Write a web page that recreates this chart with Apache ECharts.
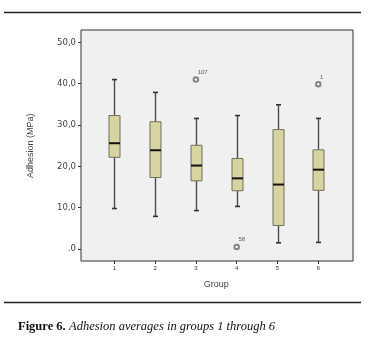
<!DOCTYPE html>
<html><head><meta charset="utf-8">
<script src="https://cdn.jsdelivr.net/npm/echarts@6/dist/echarts.min.js"></script>
<style>html,body{margin:0;padding:0;background:#fff}#c{width:376px;height:343px}</style>
</head><body><div id="c"></div>
<script>
var groups = ['1','2','3','4','5','6'];
var whiskerLow = [9.8, 7.9, 9.3, 10.3, 1.5, 1.6];
var q1 = [22.2, 17.3, 16.5, 14.1, 5.7, 14.2];
var median = [25.6, 23.9, 20.2, 17.1, 15.6, 19.2];
var q3 = [32.3, 30.8, 25.1, 21.9, 28.9, 24.0];
var whiskerHigh = [41.0, 37.9, 31.6, 32.3, 34.9, 31.6];
var outlierGroup = ['3', '4', '6'];
var outlierValue = [41.0, 0.5, 39.9];
var outlierLabel = ['107', '58', '1'];
var yTicks = ['.0', '10,0', '20,0', '30,0', '40,0', '50,0'];

var boxData = groups.map(function (g, i) {
  return [i, whiskerLow[i], q1[i], median[i], q3[i], whiskerHigh[i]];
});
var outData = outlierGroup.map(function (g, i) {
  return { value: [groups.indexOf(g), outlierValue[i]], name: outlierLabel[i] };
});

var chart = echarts.init(document.getElementById('c'), null, { renderer: 'canvas' });
var sans = 'Arial, "Liberation Sans", sans-serif';
chart.setOption({
  animation: false,
  backgroundColor: '#fff',
  grid: [
    { left: 81, right: 23, top: 30, bottom: 82, show: true, backgroundColor: '#f0f0f0', borderColor: '#333', borderWidth: 1 },
    { left: 93.9, right: 37.3, top: 30, bottom: 82, show: false },
    { left: 81, right: 23, top: 42.3, bottom: 94, show: false }
  ],
  xAxis: [
    { gridIndex: 0, type: 'value', show: false, min: 0, max: 1 },
    { gridIndex: 1, type: 'category', data: groups, position: 'bottom',
      axisLine: { show: false, onZero: false },
      axisTick: { show: true, alignWithLabel: true, length: 3, lineStyle: { color: '#333' } },
      axisLabel: { fontSize: 6, color: '#333', margin: 4, fontFamily: sans },
      name: 'Group', nameLocation: 'middle', nameGap: 19,
      nameTextStyle: { fontSize: 9, color: '#444', fontFamily: sans }
    },
    { gridIndex: 2, type: 'value', show: false, min: 0, max: 1 }
  ],
  yAxis: [
    { gridIndex: 0, type: 'value', show: false, min: 0, max: 1 },
    { gridIndex: 1, type: 'value', show: false, min: -2.9, max: 53 },
    { gridIndex: 2, type: 'value', min: 0, max: 50, interval: 10, position: 'left',
      axisLine: { show: false, onZero: false },
      axisTick: { show: true, length: 3, lineStyle: { color: '#333' } },
      splitLine: { show: false },
      axisLabel: { fontSize: 8.5, color: '#444', margin: 5, fontFamily: '"DejaVu Sans", sans-serif',
        formatter: function (v) { return yTicks[Math.round(v / 10)]; } },
      name: 'Adhesion (MPa)', nameLocation: 'middle', nameGap: 46,
      nameTextStyle: { fontSize: 9, color: '#444', fontFamily: sans }
    }
  ],
  graphic: [
    { type: 'line', shape: { x1: 4, y1: 12.5, x2: 361, y2: 12.5 }, style: { stroke: '#222', lineWidth: 1.3 } },
    { type: 'line', shape: { x1: 4, y1: 302.5, x2: 361, y2: 302.5 }, style: { stroke: '#222', lineWidth: 1.3 } },
    { type: 'text', left: 18, top: 320.5,
      style: { text: '{b|Figure 6.} {i|Adhesion averages in groups 1 through 6}',
        rich: {
          b: { fontFamily: '"Liberation Serif", serif', fontWeight: 'bold', fontSize: 12.5, fill: '#111' },
          i: { fontFamily: '"Liberation Serif", serif', fontStyle: 'italic', fontSize: 12.5, fill: '#111' }
        } } }
  ],
  series: [
    {
      type: 'custom', xAxisIndex: 1, yAxisIndex: 1, data: boxData,
      renderItem: function (params, api) {
        var x = api.value(0);
        var pLow = api.coord([x, api.value(1)]);
        var pQ1 = api.coord([x, api.value(2)]);
        var pMed = api.coord([x, api.value(3)]);
        var pQ3 = api.coord([x, api.value(4)]);
        var pHigh = api.coord([x, api.value(5)]);
        var cx = Math.round(pLow[0]) + 0.5;
        var hw = 5.5, cw = 2.5;
        var wStyle = { stroke: '#4a4a4a', lineWidth: 1.4 };
        return { type: 'group', children: [
          { type: 'line', shape: { x1: cx, y1: pHigh[1], x2: cx, y2: pQ3[1] }, style: wStyle },
          { type: 'line', shape: { x1: cx, y1: pQ1[1], x2: cx, y2: pLow[1] }, style: wStyle },
          { type: 'line', shape: { x1: cx - cw, y1: pHigh[1], x2: cx + cw, y2: pHigh[1] }, style: { stroke: '#333', lineWidth: 1.6 } },
          { type: 'line', shape: { x1: cx - cw, y1: pLow[1], x2: cx + cw, y2: pLow[1] }, style: { stroke: '#333', lineWidth: 1.6 } },
          { type: 'rect', shape: { x: cx - hw, y: pQ3[1], width: hw * 2, height: pQ1[1] - pQ3[1] },
            style: { fill: '#d8d4a2', stroke: '#707058', lineWidth: 1 } },
          { type: 'line', shape: { x1: cx - hw, y1: pMed[1], x2: cx + hw, y2: pMed[1] }, style: { stroke: '#111', lineWidth: 2 } }
        ] };
      }
    },
    {
      type: 'scatter', xAxisIndex: 1, yAxisIndex: 1, data: outData,
      symbol: 'emptyCircle', symbolSize: 4.5,
      itemStyle: { color: '#666', borderWidth: 0.8 },
      label: { show: true, formatter: '{b}', position: [5, -7], fontSize: 6, color: '#333', fontFamily: sans }
    }
  ]
});
</script></body></html>
